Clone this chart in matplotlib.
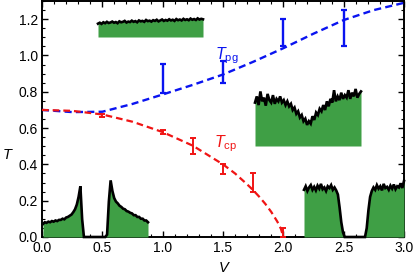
import matplotlib
matplotlib.use('Agg')
import matplotlib.pyplot as plt
from matplotlib.ticker import MultipleLocator, FormatStrFormatter
import numpy as np

plt.rcParams['font.family'] = ['Liberation Sans', 'DejaVu Sans']
plt.rcParams['mathtext.fontset'] = 'custom'
plt.rcParams['mathtext.rm'] = 'Liberation Sans'
plt.rcParams['mathtext.it'] = 'Liberation Sans:italic'

# ---- data ----
pg_V = [1.0, 1.5, 2.0, 2.5]
pg_T = [0.875, 0.91, 1.125, 1.15]
pg_err = [0.08, 0.06, 0.075, 0.10]

cp_V = [0.5, 1.0, 1.25, 1.5, 1.75, 2.0]
cp_T = [0.67, 0.577, 0.50, 0.375, 0.30, 0.025]
cp_err = [0.008, 0.012, 0.045, 0.027, 0.052, 0.025]

pg_curve_V = [0.0, 0.25, 0.5, 0.75, 1.0, 1.25, 1.5, 1.75, 2.0, 2.25, 2.5, 2.75, 3.0]
pg_curve_T = [0.70, 0.688, 0.69, 0.733, 0.785, 0.838, 0.895, 0.965, 1.04, 1.12, 1.195, 1.25, 1.29]

cp_curve_V = [0.0, 0.25, 0.5, 0.75, 1.0, 1.25, 1.5, 1.6, 1.7, 1.75, 1.8, 1.85, 1.9, 1.95, 1.98, 2.0]
cp_curve_T = [0.70, 0.695, 0.675, 0.635, 0.578, 0.503, 0.40, 0.35, 0.29, 0.258, 0.222, 0.183, 0.138, 0.085, 0.045, 0.0]

# inset histograms (normalized heights)
hist_top = [0.58, 0.62, 0.57, 0.64, 0.60, 0.66, 0.61, 0.63, 0.67, 0.62, 0.65, 0.60, 0.68, 0.64, 0.66,
            0.70, 0.63, 0.67, 0.65, 0.71, 0.66, 0.69, 0.64, 0.72, 0.68, 0.70, 0.66, 0.74, 0.69, 0.71,
            0.67, 0.73, 0.70, 0.75, 0.68, 0.72, 0.76, 0.70, 0.74, 0.71, 0.77, 0.72, 0.75, 0.70, 0.78,
            0.73, 0.76, 0.72, 0.79, 0.74, 0.77, 0.73, 0.80, 0.75, 0.78, 0.74, 0.81, 0.76, 0.79, 0.77]
hist_mid = [0.70, 0.80, 0.66, 0.88, 0.72, 0.78, 0.65, 0.84, 0.74, 0.70,
            0.82, 0.68, 0.76, 0.72, 0.80, 0.70, 0.74, 0.66, 0.72, 0.64,
            0.68, 0.58, 0.62, 0.52, 0.56, 0.46, 0.50, 0.40, 0.44, 0.34,
            0.40, 0.36, 0.48, 0.42, 0.54, 0.50, 0.60, 0.56, 0.66, 0.58,
            0.72, 0.64, 0.76, 0.70, 0.90, 0.72, 0.80, 0.74, 0.86, 0.76,
            0.82, 0.78, 0.90, 0.76, 0.86, 0.80, 0.92, 0.78, 0.84, 0.88]
hist_bl = [0.22, 0.25, 0.24, 0.26, 0.25, 0.27, 0.26, 0.28, 0.27, 0.29,
           0.29, 0.31, 0.30, 0.33, 0.34, 0.36, 0.38, 0.42, 0.47, 0.55,
           0.68, 0.86, 0.30, 0.0, 0.0, 0.0, 0.0, 0.0, 0.0, 0.0,
           0.0, 0.0, 0.0, 0.0, 0.0, 0.0, 0.04, 0.60, 0.96, 0.78,
           0.66, 0.60, 0.57, 0.53, 0.51, 0.48, 0.47, 0.44, 0.43, 0.41,
           0.40, 0.37, 0.37, 0.34, 0.34, 0.31, 0.31, 0.28, 0.28, 0.25]
hist_br = [0.80, 0.86, 0.78, 0.84, 0.88, 0.80, 0.85, 0.79, 0.87, 0.82,
           0.90, 0.81, 0.84, 0.78, 0.86, 0.83, 0.88, 0.80, 0.84, 0.79,
           0.72, 0.50, 0.25, 0.08, 0.0, 0.0, 0.0, 0.0, 0.0, 0.0,
           0.0, 0.0, 0.0, 0.0, 0.0, 0.0, 0.0, 0.15, 0.45, 0.68,
           0.78, 0.84, 0.80, 0.88, 0.82, 0.86, 0.79, 0.90, 0.83, 0.85,
           0.80, 0.87, 0.82, 0.89, 0.81, 0.86, 0.84, 0.91, 0.83, 0.95]

x_ticks = [0.0, 0.5, 1.0, 1.5, 2.0, 2.5, 3.0]
y_ticks = [0.0, 0.2, 0.4, 0.6, 0.8, 1.0, 1.2]

# ---- figure ----
W, H = 415, 277
fig = plt.figure(figsize=(W / 100, H / 100), dpi=100)
ax = fig.add_axes([42 / W, 40 / H, 362 / W, 236 / H])
ax.set_xlim(0, 3)
ax.set_ylim(0, 1.3)

ax.set_xticks(x_ticks)
ax.set_yticks(y_ticks)
ax.xaxis.set_major_formatter(FormatStrFormatter('%.1f'))
ax.yaxis.set_major_formatter(FormatStrFormatter('%.1f'))
ax.xaxis.set_minor_locator(MultipleLocator(0.1))
ax.yaxis.set_minor_locator(MultipleLocator(0.05))
ax.tick_params(which='both', direction='in', top=True, right=True, labelsize=10)
ax.tick_params(which='major', length=4, width=1.0, pad=3)
ax.tick_params(which='minor', length=2, width=0.8)
for s in ax.spines.values():
    s.set_linewidth(1.4)

blue = '#0a14f0'
red = '#f01414'
green = '#3f9f45'

ax.plot(pg_curve_V, pg_curve_T, color=blue, lw=1.7, linestyle=(0, (3.0, 1.8)), zorder=3)
ax.plot(cp_curve_V, cp_curve_T, color=red, lw=1.6, linestyle=(0, (3.0, 1.8)), zorder=3)

ax.errorbar(pg_V, pg_T, yerr=pg_err, fmt='none', ecolor=blue, elinewidth=1.7,
            capsize=2.2, capthick=1.6, zorder=4)
ax.errorbar(cp_V, cp_T, yerr=cp_err, fmt='none', ecolor=red, elinewidth=1.4,
            capsize=2.2, capthick=1.4, zorder=4)

ax.text(1.434, 0.978, r'$T_{\mathrm{pg}}$', color=blue, fontsize=11.5, ha='left', va='baseline')
ax.text(1.425, 0.495, r'$T_{\mathrm{cp}}$', color=red, fontsize=11.5, ha='left', va='baseline')

ax.text(-0.097, 0.347, 'T', style='italic', fontsize=10.5, transform=ax.transAxes,
        ha='center', va='center')
ax.text(0.503, -0.131, 'V', style='italic', fontsize=10.5, transform=ax.transAxes,
        ha='center', va='center')


def px_box(x0, x1, ytop, ybot):
    return [(x0 - 42) / 362, (237 - ybot) / 236, (x1 - x0) / 362, (ybot - ytop) / 236]


def add_hist(box, vals):
    ia = ax.inset_axes(box)
    ia.set_xlim(0, 1)
    ia.set_ylim(0, 1)
    ia.axis('off')
    ia.patch.set_alpha(0)
    xs = np.linspace(0, 1, len(vals))
    ia.fill_between(xs, 0, vals, color=green, lw=0)
    ia.plot(xs, vals, color='black', lw=1.9, clip_on=False, solid_joinstyle='miter')
    return ia


add_hist(px_box(98, 203, 14, 37), hist_top)
add_hist(px_box(255, 361, 84, 146), hist_mid)
add_hist(px_box(43, 148, 178, 237), hist_bl)
add_hist(px_box(304, 404, 178, 237), hist_br)

fig.savefig('out.png', dpi=100)
